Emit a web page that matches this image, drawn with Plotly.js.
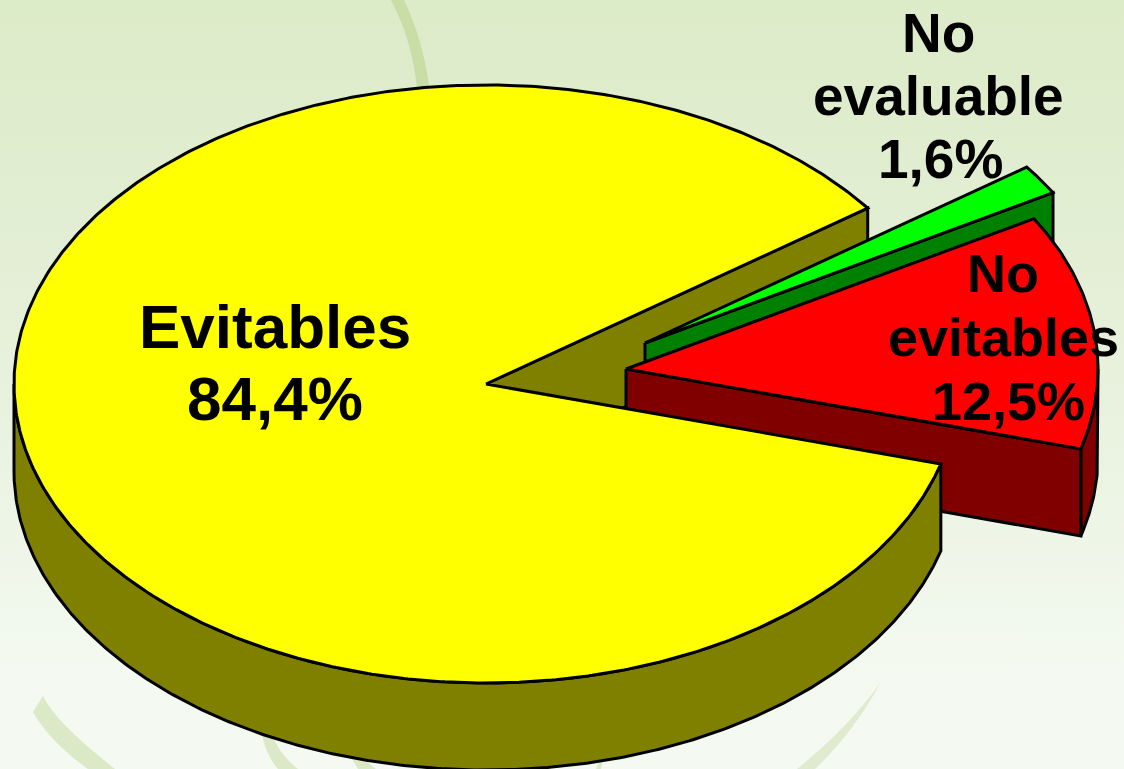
<!DOCTYPE html>
<html>
<head>
<meta charset="utf-8">
<script src="https://cdn.plot.ly/plotly-3.0.1.min.js"></script>
<style>
html,body{margin:0;padding:0;width:1124px;height:769px;overflow:hidden;
background:linear-gradient(180deg,#dcebc8 0%,#e2eed3 30%,#ebf3e2 60%,#f3f9ef 85%,#f4faf1 100%);}
#chart{width:1124px;height:769px;}
</style>
</head>
<body>
<div id="chart"></div>
<script>
// Data
const categories = ["Evitables", "No evitables", "No evaluable"];
const values = [84.4, 12.5, 1.6];
const topColors = ["#ffff00", "#ff0000", "#00ff00"];
const wallColors = ["#808000", "#800000", "#008000"];
const labelLines = [["Evitables"], ["No", "evitables"], ["No", "evaluable"]];

// Pie geometry (pixels of the picture, used as the axes' scale)
const cx = 486, cy = 384, rx = 472, ry = 299, depth = 87;
const startAngle = -15.5;
const explodeX = [0, 140, 159];
const explodeY = [0, -15, -41];
const total = values.reduce((a, b) => a + b, 0);

// slice order going counter-clockwise from startAngle: red, green, yellow
const order = [1, 2, 0];
const span = {};
let running = startAngle;
order.forEach(i => {
  span[i] = [running, running + values[i] / total * 360];
  running = span[i][1];
});

function pt(i, deg, dz) {
  const t = deg * Math.PI / 180;
  return [cx + explodeX[i] + rx * Math.cos(t), cy + explodeY[i] - ry * Math.sin(t) + (dz || 0)];
}
function arc(i, a, b, dz) {
  const n = Math.max(2, Math.round(Math.abs(b - a) * 2));
  const out = [];
  for (let k = 0; k <= n; k++) out.push(pt(i, a + (b - a) * k / n, dz));
  return out;
}
function apex(i, dz) { return [cx + explodeX[i], cy + explodeY[i] + (dz || 0)]; }
function poly(points, color, name) {
  const closed = points.concat([points[0]]);
  return {
    type: "scatter", mode: "lines", name: name,
    x: closed.map(p => p[0]), y: closed.map(p => p[1]),
    fill: "toself", fillcolor: color,
    line: { color: "#000000", width: 3, shape: "linear" },
    hoverinfo: "name", showlegend: false
  };
}
function topFace(i) {
  return poly([apex(i)].concat(arc(i, span[i][0], span[i][1])), topColors[i], categories[i]);
}
function cutWall(i, deg) {
  return poly([apex(i), pt(i, deg), pt(i, deg, depth), apex(i, depth)], wallColors[i], categories[i]);
}
function outerWall(i, a, b) {
  return poly(arc(i, a, b).concat(arc(i, a, b, depth).reverse()), wallColors[i], categories[i]);
}

const traces = [
  cutWall(0, span[0][0]),
  cutWall(2, span[2][0]),
  topFace(2),
  outerWall(1, span[1][0], 0),
  cutWall(1, span[1][0]),
  topFace(1),
  outerWall(0, 180, span[0][1]),
  topFace(0)
];

// Labels
const fmt = v => v.toFixed(1).replace(".", ",") + "%";
const labelStyle = [
  { x: 275, y: 326, size: 62, pitch: 72 },
  { x: 1003, y: 273, size: 54, pitch: 64 },
  { x: 938, y: 33, size: 55, pitch: 63 }
];
const annotations = [];
const valueX = [275, 1008, 940];
categories.forEach((c, i) => {
  const s = labelStyle[i];
  const lines = labelLines[i].concat([fmt(values[i])]);
  lines.forEach((line, k) => {
    annotations.push({
      x: k === lines.length - 1 ? valueX[i] : s.x,
      y: s.y + k * s.pitch,
      xref: "x", yref: "y", text: line, showarrow: false,
      xanchor: "center", yanchor: "middle",
      font: { family: "Liberation Sans, Arial, sans-serif", size: s.size, color: "#000000", weight: 700 }
    });
  });
});

// Background grass strokes
const strokeColor = "#dce9c6";
const shapes = [
  { d: "M 391 0 L 404 0 Q 423 40 429 86 L 417 88 Q 412 40 391 0 Z", c: "#c9dda6" },
  { d: "M 43 696 Q 55 722 115 769 L 88 769 Q 50 742 33 712 Z", c: strokeColor },
  { d: "M 262 735 L 272 735 Q 280 755 298 769 L 278 769 Q 266 755 262 735 Z", c: strokeColor },
  { d: "M 352 759 L 362 757 Q 368 763 376 769 L 358 769 Z", c: strokeColor },
  { d: "M 881 682 Q 853 733 815 769 L 797 769 Q 848 728 881 682 Z", c: "#e0eacf" },
  { d: "M 600 758 L 603 758 L 601 769 L 596 769 Z", c: strokeColor }
].map(s => ({ type: "path", path: s.d, fillcolor: s.c, line: { width: 0 }, layer: "below", xref: "x", yref: "y" }));

Plotly.newPlot("chart", traces, {
  width: 1124, height: 769,
  margin: { l: 0, r: 0, t: 0, b: 0, pad: 0 },
  paper_bgcolor: "rgba(0,0,0,0)", plot_bgcolor: "rgba(0,0,0,0)",
  xaxis: { range: [0, 1124], visible: false, fixedrange: true },
  yaxis: { range: [769, 0], visible: false, fixedrange: true },
  showlegend: false, hovermode: "closest",
  annotations: annotations, shapes: shapes
}, { displayModeBar: false, staticPlot: true });
</script>
</body>
</html>
